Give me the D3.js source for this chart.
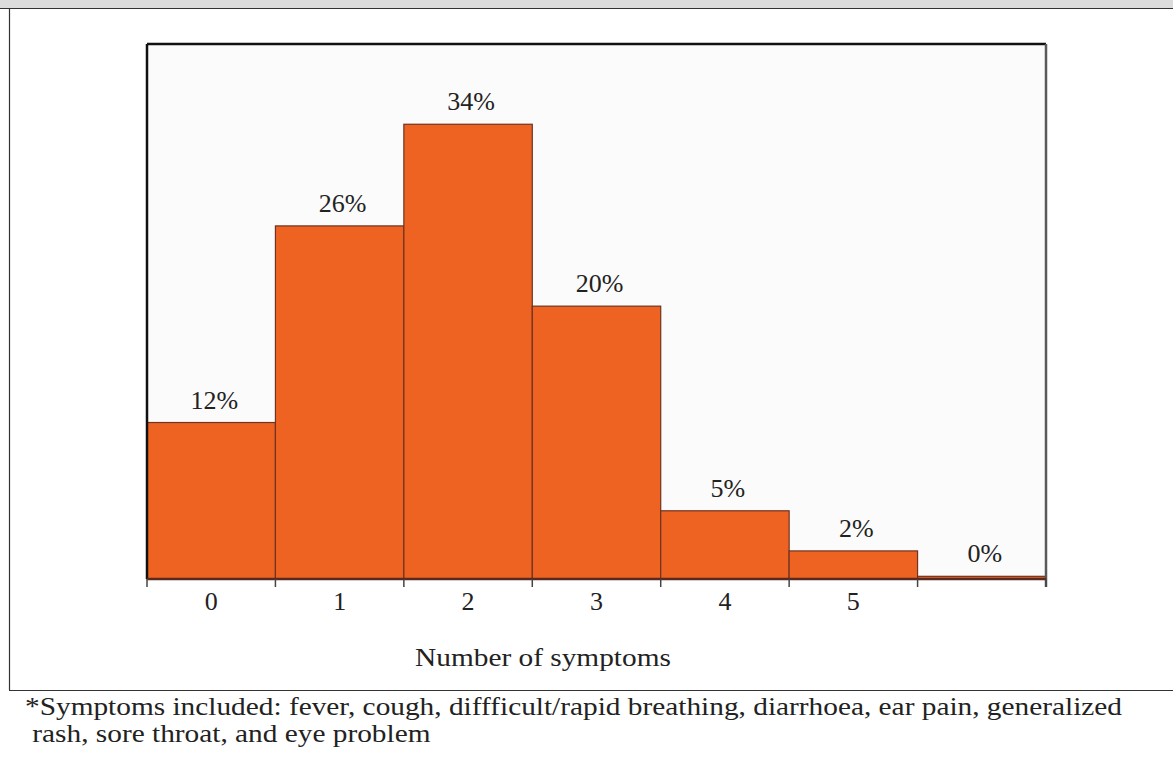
<!doctype html>
<html>
<head>
<meta charset="UTF-8" />
<title>Number of symptoms</title>
<script src="https://d3js.org/d3.v7.min.js"></script>
<style>
  html, body { margin: 0; padding: 0; background: #fff; }
  svg { display: block; font-family: "Liberation Serif", "DejaVu Serif", serif; }
</style>
</head>
<body>
<div id="container"></div>
<script>

// categories (number of symptoms), bar values (%) and printed labels
const categories = ["0", "1", "2", "3", "4", "5", "6"];
const tickLabels = ["0", "1", "2", "3", "4", "5", ""];
const percents = [11.7, 26.4, 34, 20.4, 5.1, 2.1, 0.2];
const barLabels = ["12%", "26%", "34%", "20%", "5%", "2%", "0%"];
const xTitle = "Number of symptoms";
const footnote = [
  "*Symptoms included: fever, cough, diffficult/rapid breathing, diarrhoea, ear pain, generalized",
  " rash, sore throat, and eye problem"
];

const width = 1173;
const height = 757;
const marginTop = 44;
const marginLeft = 147;
const plotRight = 1046;
const baseY = 579;
const fontSize = 26;

const svg = d3.select("#container").append("svg")
    .attr("width", width)
    .attr("height", height);

// page frame: grey header strip, left rule, footnote separator
svg.append("rect")
    .attr("x", 0).attr("y", 0)
    .attr("width", width).attr("height", 8)
    .attr("fill", "#dcdcdc");
svg.append("line")
    .attr("x1", 0).attr("x2", width)
    .attr("y1", 8.5).attr("y2", 8.5)
    .attr("stroke", "#333").attr("stroke-width", 1.2);
svg.append("line")
    .attr("x1", 9.5).attr("x2", 9.5)
    .attr("y1", 8).attr("y2", 690)
    .attr("stroke", "#333").attr("stroke-width", 1.2);
svg.append("line")
    .attr("x1", 9).attr("x2", width)
    .attr("y1", 690.5).attr("y2", 690.5)
    .attr("stroke", "#333").attr("stroke-width", 1.2);

// scales
const x = d3.scaleBand()
    .domain(categories)
    .range([marginLeft, plotRight])
    .paddingInner(0).paddingOuter(0);

const y = d3.scaleLinear()
    .domain([0, 40])
    .range([baseY, marginTop]);

// plot background
svg.append("rect")
    .attr("x", marginLeft).attr("y", marginTop)
    .attr("width", plotRight - marginLeft).attr("height", baseY - marginTop)
    .attr("fill", "#fbfbfb");

// bars
svg.append("g")
  .selectAll("rect")
  .data(percents)
  .join("rect")
    .attr("x", (d, i) => x(categories[i]))
    .attr("y", d => y(d))
    .attr("width", x.bandwidth())
    .attr("height", d => baseY - y(d))
    .attr("fill", "#ef6322")
    .attr("stroke", "#6e3322")
    .attr("stroke-width", 1.2);

// value labels
svg.append("g")
  .selectAll("text")
  .data(percents)
  .join("text")
    .attr("x", (d, i) => x(categories[i]) + x.bandwidth() / 2 + 3)
    .attr("y", d => y(d) - 14)
    .attr("text-anchor", "middle")
    .attr("font-size", fontSize)
    .attr("fill", "#222")
    .text((d, i) => barLabels[i]);

// frame: black top and left, grey right
svg.append("line")
    .attr("x1", marginLeft).attr("x2", plotRight)
    .attr("y1", marginTop).attr("y2", marginTop)
    .attr("stroke", "#111").attr("stroke-width", 2.5);
svg.append("line")
    .attr("x1", marginLeft).attr("x2", marginLeft)
    .attr("y1", marginTop).attr("y2", baseY)
    .attr("stroke", "#111").attr("stroke-width", 2.5);
svg.append("line")
    .attr("x1", plotRight).attr("x2", plotRight)
    .attr("y1", marginTop).attr("y2", baseY + 8)
    .attr("stroke", "#5a5a5a").attr("stroke-width", 2.5);

// baseline and boundary ticks
svg.append("line")
    .attr("x1", marginLeft).attr("x2", plotRight)
    .attr("y1", baseY).attr("y2", baseY)
    .attr("stroke", "#5a2a1e").attr("stroke-width", 2.5);

const bounds = categories.map(c => x(c)).concat([x.range()[1]]);
svg.append("g")
  .selectAll("line")
  .data(bounds)
  .join("line")
    .attr("x1", d => d).attr("x2", d => d)
    .attr("y1", baseY).attr("y2", baseY + 8)
    .attr("stroke", "#444").attr("stroke-width", 1.5);

// category labels via axis
const xAxis = svg.append("g")
    .attr("transform", `translate(0,${baseY})`)
    .call(d3.axisBottom(x).tickSize(0).tickPadding(13)
      .tickFormat((d, i) => tickLabels[i]));
xAxis.select(".domain").remove();
xAxis.selectAll("text")
    .attr("font-family", "Liberation Serif, DejaVu Serif, serif")
    .attr("font-size", fontSize)
    .attr("fill", "#222");

// footnote (the original face is wider than Times, so widen glyphs to the measured line length)
const notes = svg.append("g")
  .selectAll("text")
  .data(footnote)
  .join("text")
    .attr("x", 25)
    .attr("y", (d, i) => 715 + i * 27)
    .attr("font-size", fontSize)
    .attr("fill", "#222")
    .attr("xml:space", "preserve")
    .style("white-space", "pre")
    .text(d => d);

const widen = 1097 / notes.nodes()[0].getComputedTextLength();
notes.each(function() {
  const len = this.getComputedTextLength();
  d3.select(this).attr("textLength", len * widen).attr("lengthAdjust", "spacingAndGlyphs");
});

// axis title
const title = svg.append("text")
    .attr("x", 543)
    .attr("y", 666)
    .attr("text-anchor", "middle")
    .attr("font-size", fontSize)
    .attr("fill", "#222")
    .text(xTitle);
title.attr("textLength", title.node().getComputedTextLength() * widen)
    .attr("lengthAdjust", "spacingAndGlyphs");

</script>
</body>
</html>
